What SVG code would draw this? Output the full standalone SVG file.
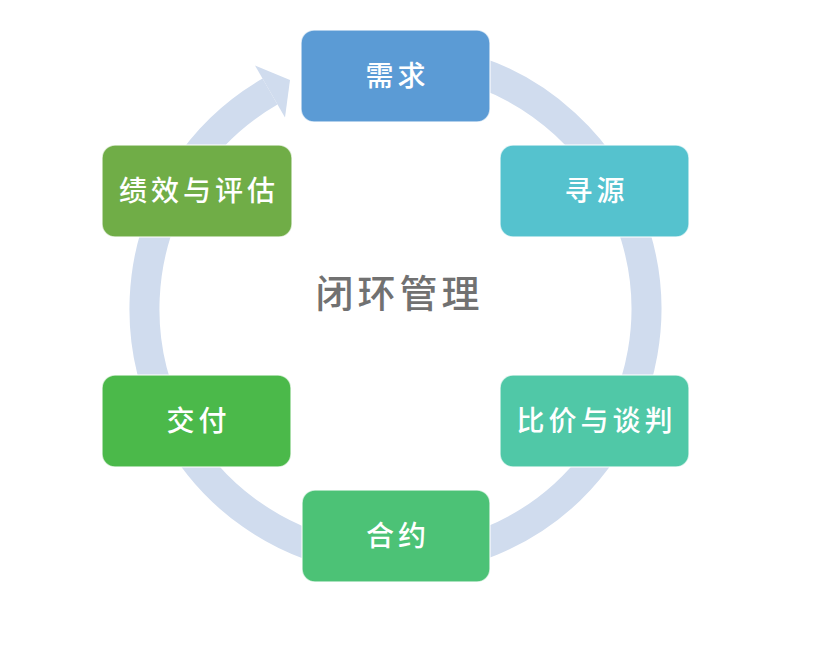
<svg xmlns="http://www.w3.org/2000/svg" width="837" height="646" viewBox="0 0 837 646">
  <style>
    .box { stroke: #ffffff; stroke-opacity: 0.7; stroke-width: 1.5; }
    .lbl { font-family: "Noto Sans CJK SC", "Noto Sans", sans-serif; font-size: 28px; font-weight: 500; fill: #ffffff; text-anchor: middle; letter-spacing: 4px; }
    .ring { fill: none; stroke: #D0DCEE; stroke-width: 30; stroke-linecap: butt; }
    .head { fill: #D0DCEE; }
    .title { font-family: "Noto Sans CJK SC", "Noto Sans", sans-serif; font-size: 38px; font-weight: 500; fill: #717171; text-anchor: middle; letter-spacing: 4px; }
  </style>
  <rect width="837" height="646" fill="#ffffff"/>
  <g id="connectors">
    <path class="ring" d="M 330.5 66.55 A 251 251 0 1 1 270 91.6"/>
    <polygon class="head" points="255,65.6 290,80.1 285,117.6"/>
  </g>
  <g id="center-label">
    <text class="title" x="399.5" y="307">闭环管理</text>
  </g>
  <g id="node-xuqiu">
    <rect class="box" x="301" y="30" width="189" height="92" rx="13" fill="#5B9BD5"/>
    <text class="lbl" x="397.5" y="86">需求</text>
  </g>
  <g id="node-xunyuan">
    <rect class="box" x="500" y="145" width="189" height="92" rx="13" fill="#55C2CE"/>
    <text class="lbl" x="596.5" y="201">寻源</text>
  </g>
  <g id="node-bijia">
    <rect class="box" x="500" y="375" width="189" height="92" rx="13" fill="#50C8A7"/>
    <text class="lbl" x="596.5" y="431">比价与谈判</text>
  </g>
  <g id="node-heyue">
    <rect class="box" x="302" y="490" width="188" height="92" rx="13" fill="#4CC276"/>
    <text class="lbl" x="398" y="546">合约</text>
  </g>
  <g id="node-jiaofu">
    <rect class="box" x="102" y="375" width="189" height="92" rx="13" fill="#4BB94A"/>
    <text class="lbl" x="198.5" y="431">交付</text>
  </g>
  <g id="node-jixiao">
    <rect class="box" x="102" y="145" width="190" height="92" rx="13" fill="#70AD47"/>
    <text class="lbl" x="199" y="201">绩效与评估</text>
  </g>
</svg>
